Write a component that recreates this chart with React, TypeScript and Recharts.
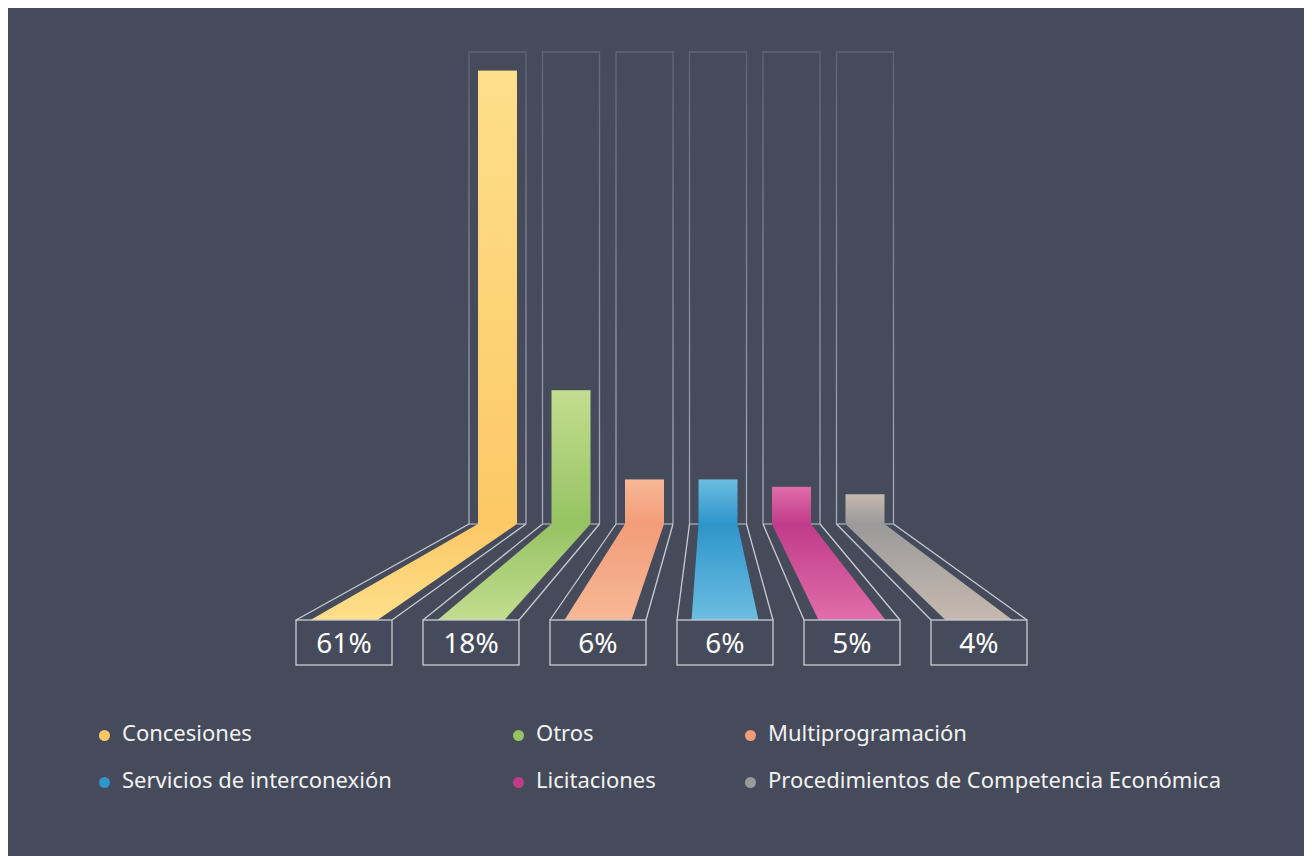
import { Bar, BarChart, XAxis, YAxis } from 'recharts'

const categories = [
  'Concesiones',
  'Otros',
  'Multiprogramación',
  'Servicios de interconexión',
  'Licitaciones',
  'Procedimientos de Competencia Económica',
]
const shares = [61, 18, 6, 6, 5, 4]
const shareLabels = ['61%', '18%', '6%', '6%', '5%', '4%']
const baseColors = ['#FCC865', '#96C363', '#F39C78', '#2E95CB', '#C13B89', '#9B9A9A']
const lightColors = ['#FEDF8C', '#C3DD90', '#F7B896', '#6CBDE0', '#E06DAA', '#C6B9AF']

const data = categories.map((name, i) => ({ name, value: shares[i], label: shareLabels[i] }))

const W = 1304
const H = 848
const margin = { top: 44, right: 270, bottom: 332, left: 272 }
const FLOOR = 96 // drop from the bar base to the label boxes
const BOX_H = 45
const RIBBON_HALF = 33.5
const FRAME_PAD = 9

// bar positions, written by the far series and read by the near one
const farPos: { x: number; w: number; base: number }[] = []

const Frame = (props: any) => {
  const { x, y, width, height } = props
  const fx = x - FRAME_PAD
  const fw = width + FRAME_PAD * 2
  const base = y + height
  return (
    <g>
      <path
        d={`M${fx},${base} V${y} H${fx + fw} V${base}`}
        fill="none"
        stroke="url(#frameStroke)"
        strokeWidth={1.3}
      />
      <line x1={fx} y1={base} x2={x} y2={base} stroke="#A9ADB7" strokeWidth={1.3} />
      <line x1={x + width} y1={base} x2={fx + fw} y2={base} stroke="#A9ADB7" strokeWidth={1.3} />
    </g>
  )
}

const FarBar = (props: any) => {
  const { x, y, width, height, index } = props
  farPos[index] = { x, w: width, base: y + height }
  return <rect x={x} y={y} width={width} height={height} fill={`url(#bar${index})`} />
}

const NearBox = (props: any) => {
  const { x, width, index, payload } = props
  const far = farPos[index]
  if (!far) return null
  const top = far.base + FLOOR
  const cx = x + width / 2
  const fx = far.x - FRAME_PAD
  const fr = far.x + far.w + FRAME_PAD
  return (
    <g>
      <polygon
        points={`${far.x},${far.base} ${far.x + far.w},${far.base} ${cx + RIBBON_HALF},${top} ${cx - RIBBON_HALF},${top}`}
        fill={`url(#ribbon${index})`}
      />
      <line x1={fx} y1={far.base} x2={x} y2={top} stroke="#C9CCD3" strokeWidth={1.3} />
      <line x1={fr} y1={far.base} x2={x + width} y2={top} stroke="#C9CCD3" strokeWidth={1.3} />
      <rect x={x} y={top} width={width} height={BOX_H} fill="none" stroke="#C9CCD3" strokeWidth={1.3} />
      <text
        x={cx}
        y={top + BOX_H / 2 - 1}
        textAnchor="middle"
        dominantBaseline="central"
        fill="#FFFFFF"
        fontSize={28}
        fontFamily="'Noto Sans', sans-serif"
      >
        {payload.label}
      </text>
    </g>
  )
}

const legendCols = [91, 505, 737]
const legendRows = [710, 757]

export default function App() {
  return (
    <div style={{ position: 'relative', width: W, height: 860, background: '#454B5B' }}>
      <BarChart width={W} height={H} data={data} margin={margin}>
        <defs>
          <linearGradient id="frameStroke" gradientUnits="userSpaceOnUse" x1={0} y1={44} x2={0} y2={516}>
            <stop offset="0%" stopColor="#5F6576" />
            <stop offset="100%" stopColor="#A9ADB7" />
          </linearGradient>
          {baseColors.map((c, i) => (
            <linearGradient key={`b${i}`} id={`bar${i}`} x1="0" y1="0" x2="0" y2="1">
              <stop offset="0%" stopColor={lightColors[i]} />
              <stop offset="100%" stopColor={c} />
            </linearGradient>
          ))}
          {baseColors.map((c, i) => (
            <linearGradient key={`r${i}`} id={`ribbon${i}`} x1="0" y1="0" x2="0" y2="1">
              <stop offset="0%" stopColor={c} />
              <stop offset="100%" stopColor={lightColors[i]} />
            </linearGradient>
          ))}
        </defs>
        <XAxis xAxisId="far" dataKey="name" hide padding={{ left: 181, right: 140 }} />
        <XAxis xAxisId="near" dataKey="name" hide />
        <YAxis hide domain={[0, 63.5]} />
        <Bar
          xAxisId="far"
          dataKey="value"
          barSize={39}
          background={<Frame />}
          shape={<FarBar />}
          isAnimationActive={false}
        />
        <Bar xAxisId="near" dataKey="value" barSize={96} shape={<NearBox />} isAnimationActive={false} />
      </BarChart>
      {categories.map((name, i) => (
        <div
          key={name}
          style={{
            position: 'absolute',
            left: legendCols[i % 3],
            top: legendRows[Math.floor(i / 3)],
            display: 'flex',
            alignItems: 'center',
            fontFamily: "'Noto Sans', sans-serif",
            fontSize: 22,
            lineHeight: '28px',
            color: '#F2F2F2',
            whiteSpace: 'nowrap',
          }}
        >
          <span
            style={{
              display: 'inline-block',
              width: 11,
              height: 11,
              borderRadius: '50%',
              background: baseColors[i],
              marginRight: 12,
              marginTop: 6,
            }}
          />
          {name}
        </div>
      ))}
    </div>
  )
}
